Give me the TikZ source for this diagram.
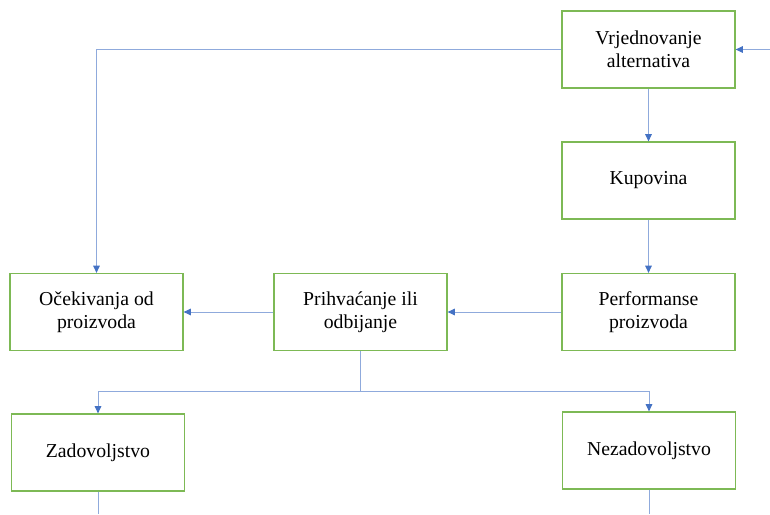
\documentclass[tikz,border=0pt]{standalone}
\usepackage{fontspec}
\setmainfont{Liberation Serif}
\usetikzlibrary{arrows.meta}
\definecolor{boxgreen}{RGB}{125,185,85}
\definecolor{lineblue}{RGB}{143,170,220}
\definecolor{tipblue}{RGB}{68,114,196}
\begin{document}
\begin{tikzpicture}[x=0.75pt,y=0.75pt,yscale=-1,xscale=1,
		box/.style={draw=boxgreen, line width=0.9pt, minimum width=129.75pt, minimum height=57.75pt, inner sep=0pt, align=center, font=\fontsize{14.8}{17.5}\selectfont},
		link/.style={draw=lineblue, line width=0.75pt, -{Triangle[length=5.5pt,width=5pt,color=tipblue]}},
		plain/.style={draw=lineblue, line width=0.75pt}]
		\useasboundingbox (0,0) rectangle (770,514);
		
		% Boxes
		\node[box] (vrj) at (648.5,49.5) {Vrjednovanje\\alternativa};
		\node[box] (kup) at (648.5,180.5) {Kupovina};
		\node[box] (perf) at (648.5,312) {Performanse\\proizvoda};
		\node[box] (prih) at (360.5,312) {Prihvaćanje ili\\odbijanje};
		\node[box] (ocek) at (96.5,312) {Očekivanja od\\proizvoda};
		\node[box] (zad) at (98,452.5) {Zadovoljstvo};
		\node[box] (nez) at (649,450.5) {Nezadovoljstvo};
		
		% Free ends
		\coordinate (in) at (770,49.5);
		\coordinate (split) at (360.5,391);
		\coordinate (zadend) at (98,514);
		\coordinate (nezend) at (649,514);
		
		% Connectors
		\draw[link] (in) -- (vrj);
		\draw[link] (vrj.west) -| (ocek.north);
		\draw[link] (vrj) -- (kup);
		\draw[link] (kup) -- (perf);
		\draw[link] (perf) -- (prih);
		\draw[link] (prih) -- (ocek);
		\draw[plain] (prih.south) -- (split);
		\draw[link] (split) -| (zad.north);
		\draw[link] (split) -| (nez.north);
		\draw[plain] (zad.south) -- (zadend);
		\draw[plain] (nez.south) -- (nezend);
\end{tikzpicture}
\end{document}
